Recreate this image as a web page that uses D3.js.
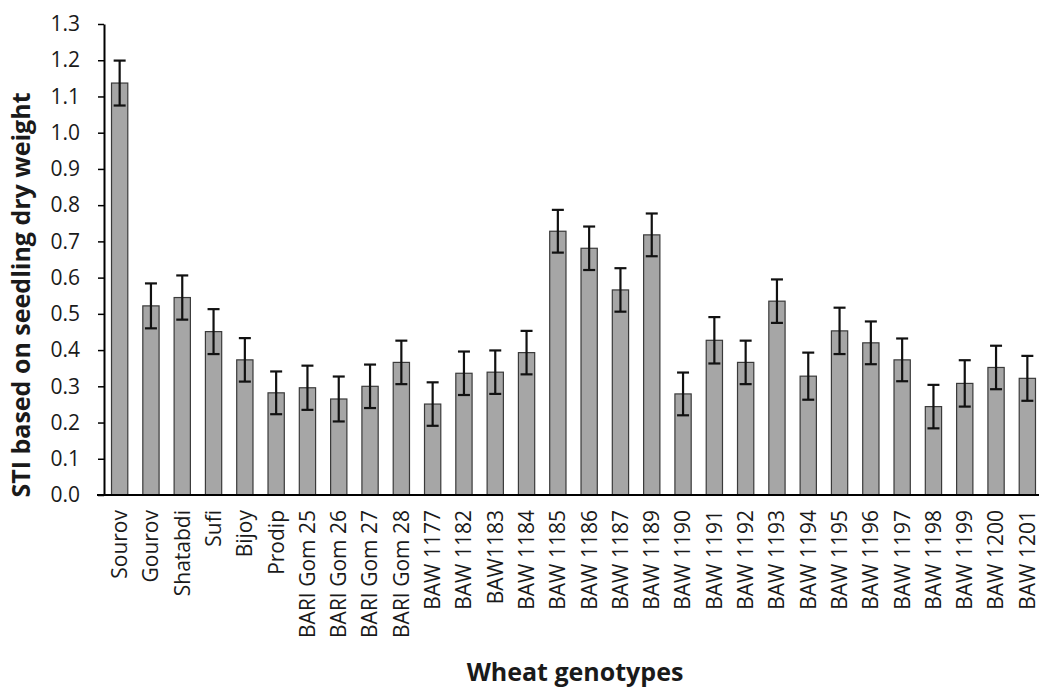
<!DOCTYPE html>
<html>
<head>
<meta charset="utf-8">
<script src="https://cdn.jsdelivr.net/npm/d3@7"></script>
<style>
	body{ margin:0; background:#fff; }
	text{ font-family:'Open Sans', sans-serif; fill:#1a1a1a; }
</style>
</head>
<body>
<svg id="chart" width="1039" height="689"></svg>
<script>
'use strict'

var genotypes = ['Sourov', 'Gourov', 'Shatabdi', 'Sufi', 'Bijoy', 'Prodip',
	'BARI Gom 25', 'BARI Gom 26', 'BARI Gom 27', 'BARI Gom 28',
	'BAW  1177', 'BAW 1182', 'BAW1183', 'BAW 1184', 'BAW 1185', 'BAW 1186', 'BAW 1187', 'BAW 1189',
	'BAW 1190', 'BAW  1191', 'BAW  1192', 'BAW 1193', 'BAW  1194', 'BAW  1195', 'BAW  1196',
	'BAW 1197', 'BAW  1198', 'BAW 1199', 'BAW  1200', 'BAW 1201'];

var sti = [1.137, 0.522, 0.545, 0.451, 0.373, 0.282, 0.296, 0.265, 0.300, 0.366,
	0.251, 0.336, 0.339, 0.393, 0.728, 0.681, 0.566, 0.718,
	0.279, 0.427, 0.366, 0.535, 0.328, 0.453, 0.420, 0.373, 0.244, 0.308, 0.352, 0.322];

var stiErr = [0.062, 0.062, 0.061, 0.062, 0.060, 0.059, 0.061, 0.062, 0.060, 0.060,
	0.060, 0.060, 0.060, 0.060, 0.059, 0.060, 0.060, 0.059,
	0.059, 0.064, 0.060, 0.060, 0.065, 0.064, 0.059, 0.059, 0.060, 0.064, 0.060, 0.062];

var yTicks = [0, 0.1, 0.2, 0.3, 0.4, 0.5, 0.6, 0.7, 0.8, 0.9, 1.0, 1.1, 1.2, 1.3];

var svg = d3.select('#chart');

var xScale = d3.scaleBand()
	.domain(genotypes)
	.range([104, 1043])
	.paddingInner(0.48)
	.paddingOuter(0.24);

var yScale = d3.scaleLinear()
	.domain([0, 1.3])
	.range([495, 24]);

// y axis
var yAxis = svg.append('g')
	.attr('transform', 'translate(104,0)')
	.call(d3.axisLeft(yScale).tickValues(yTicks).tickFormat(d3.format('.1f')).tickSize(6).tickSizeOuter(0).tickPadding(18));
yAxis.select('.domain').attr('stroke', '#000').attr('stroke-width', 2);
yAxis.selectAll('.tick line').attr('stroke', '#000').attr('stroke-width', 1.5);
yAxis.selectAll('text').attr('font-size', 21).attr('font-family', "'Open Sans', sans-serif").attr('fill', '#1a1a1a');

// bars
svg.append('g')
	.selectAll('rect')
	.data(sti)
	.enter()
	.append('rect')
	.attr('x', function(d, i){ return xScale(genotypes[i]); })
	.attr('y', function(d){ return yScale(d); })
	.attr('width', xScale.bandwidth())
	.attr('height', function(d){ return yScale(0) - yScale(d); })
	.attr('fill', '#a6a6a6')
	.attr('stroke', '#3a3a3a')
	.attr('stroke-width', 1.2);

// error bars
var errG = svg.append('g')
	.selectAll('g')
	.data(sti)
	.enter()
	.append('g')
	.attr('stroke', '#111')
	.attr('stroke-width', 2.2);

errG.append('line')
	.attr('x1', function(d, i){ return xScale(genotypes[i]) + xScale.bandwidth()/2; })
	.attr('x2', function(d, i){ return xScale(genotypes[i]) + xScale.bandwidth()/2; })
	.attr('y1', function(d, i){ return yScale(d + stiErr[i]); })
	.attr('y2', function(d, i){ return yScale(d - stiErr[i]); });

errG.append('line')
	.attr('x1', function(d, i){ return xScale(genotypes[i]) + xScale.bandwidth()/2 - 6; })
	.attr('x2', function(d, i){ return xScale(genotypes[i]) + xScale.bandwidth()/2 + 6; })
	.attr('y1', function(d, i){ return yScale(d + stiErr[i]); })
	.attr('y2', function(d, i){ return yScale(d + stiErr[i]); });

errG.append('line')
	.attr('x1', function(d, i){ return xScale(genotypes[i]) + xScale.bandwidth()/2 - 6; })
	.attr('x2', function(d, i){ return xScale(genotypes[i]) + xScale.bandwidth()/2 + 6; })
	.attr('y1', function(d, i){ return yScale(d - stiErr[i]); })
	.attr('y2', function(d, i){ return yScale(d - stiErr[i]); });

// x axis
var xAxis = svg.append('g')
	.attr('transform', 'translate(0,495)')
	.call(d3.axisBottom(xScale).tickSize(0).tickPadding(0));
xAxis.select('.domain').attr('d', 'M97,0H1043').attr('stroke', '#000').attr('stroke-width', 2);
xAxis.selectAll('text')
	.attr('font-size', 21)
	.attr('font-family', "'Open Sans', sans-serif")
	.attr('fill', '#1a1a1a')
	.attr('text-anchor', 'end')
	.attr('y', 0)
	.attr('dy', '0.35em')
	.attr('transform', 'translate(0,15) rotate(-90)');

// axis titles
svg.append('text')
	.attr('transform', 'translate(30,295) rotate(-90)')
	.attr('text-anchor', 'middle')
	.attr('font-size', 25)
	.attr('font-weight', 'bold')
	.text('STI based on seedling dry weight');

svg.append('text')
	.attr('x', 575)
	.attr('y', 681)
	.attr('text-anchor', 'middle')
	.attr('font-size', 25)
	.attr('font-weight', 'bold')
	.text('Wheat genotypes');
</script>
</body>
</html>
